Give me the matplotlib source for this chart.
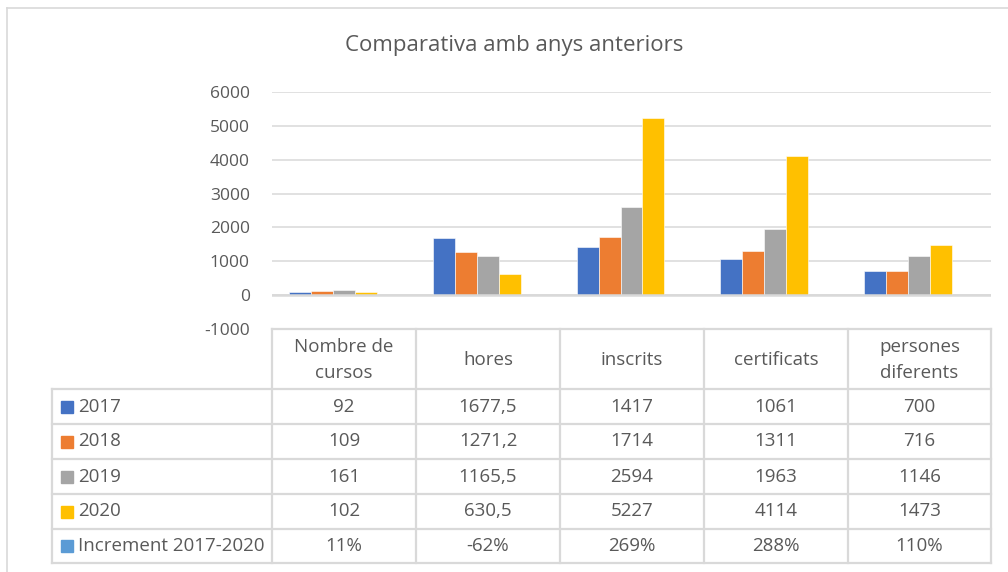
import numpy as np
import matplotlib as mpl
mpl.use('Agg')
import matplotlib.pyplot as plt
from matplotlib.lines import Line2D
from matplotlib.patches import Rectangle

plt.rcParams['font.family'] = ['Open Sans', 'DejaVu Sans']
plt.rcParams['axes.unicode_minus'] = False

# Data
categories = ['Nombre de\ncursos', 'hores', 'inscrits', 'certificats', 'persones\ndiferents']
series_names = ['2017', '2018', '2019', '2020', 'Increment 2017-2020']
v2017 = [92, 1677.5, 1417, 1061, 700]
v2018 = [109, 1271.2, 1714, 1311, 716]
v2019 = [161, 1165.5, 2594, 1963, 1146]
v2020 = [102, 630.5, 5227, 4114, 1473]
increment = [0.11, -0.62, 2.69, 2.88, 1.10]
colors = ['#4472C4', '#ED7D31', '#A5A5A5', '#FFC000', '#5B9BD5']

W, H = 1008, 572
txt = '#595959'
grid = '#D9D9D9'

fig = plt.figure(figsize=(W / 100, H / 100), dpi=100)


def fx(x):
    return x / W


def fy(y):
    return 1 - y / H


# plot area in pixels
left, right, top, bottom = 272, 991, 92, 329
ax = fig.add_axes([fx(left), fy(bottom), fx(right - left), (bottom - top) / H])

series = [v2017, v2018, v2019, v2020, increment]
x = np.arange(len(categories))
bw = 22 / 144
for k, vals in enumerate(series):
    ax.bar(x + (k - 2) * bw, vals, width=bw, color=colors[k],
           edgecolor='white', linewidth=0.4, zorder=3)

ax.set_xlim(-0.5, len(categories) - 0.5)
ax.set_ylim(-1000, 6000)
ax.set_yticks(np.arange(-1000, 6001, 1000))
ax.set_xticks([])
ax.tick_params(axis='y', length=0, pad=16, labelsize=12.5, labelcolor=txt)
ax.grid(axis='y', color=grid, lw=1.1, zorder=0)
ax.axhline(0, color=grid, lw=1.8, zorder=4)
for s in ax.spines.values():
    s.set_visible(False)

# chart border
fig.add_artist(Line2D([fx(7), fx(1008)], [fy(8), fy(8)], color=grid, lw=1.2))
fig.add_artist(Line2D([fx(7), fx(7)], [fy(8), fy(572)], color=grid, lw=1.2))

fig.text(fx(514), fy(45), 'Comparativa amb anys anteriors', ha='center', va='center',
         fontsize=16, color=txt)

# data table
col_x = [272, 416, 560, 704, 848, 991]
row_y = [329, 389, 424, 459, 494, 529, 563]
tl = dict(color=grid, lw=1.6)
fig.add_artist(Line2D([fx(272), fx(991)], [fy(329), fy(329)], **tl))
for yy in row_y[1:]:
    fig.add_artist(Line2D([fx(52), fx(991)], [fy(yy), fy(yy)], **tl))
fig.add_artist(Line2D([fx(52), fx(52)], [fy(389), fy(563)], **tl))
for xx in col_x:
    fig.add_artist(Line2D([fx(xx), fx(xx)], [fy(329), fy(563)], **tl))

fs = 13.5
for i, cat in enumerate(categories):
    cx = (col_x[i] + col_x[i + 1]) / 2
    fig.text(fx(cx), fy(360), cat, ha='center', va='center', fontsize=fs,
             color=txt, linespacing=1.5)


def fmt(v):
    if float(v).is_integer():
        return str(int(v))
    return ('%g' % v).replace('.', ',')


for r, (name, vals) in enumerate(zip(series_names, series)):
    cy = (row_y[r + 1] + row_y[r + 2]) / 2
    fig.add_artist(Rectangle((fx(61), fy(cy + 6)), fx(12), 12 / H,
                             color=colors[r], transform=fig.transFigure))
    fig.text(fx(78), fy(cy), name, ha='left', va='center', fontsize=fs, color=txt)
    for i, v in enumerate(vals):
        cx = (col_x[i] + col_x[i + 1]) / 2
        s = '%d%%' % round(v * 100) if r == 4 else fmt(v)
        fig.text(fx(cx), fy(cy), s, ha='center', va='center', fontsize=fs, color=txt)

fig.savefig('out.png', dpi=100)
